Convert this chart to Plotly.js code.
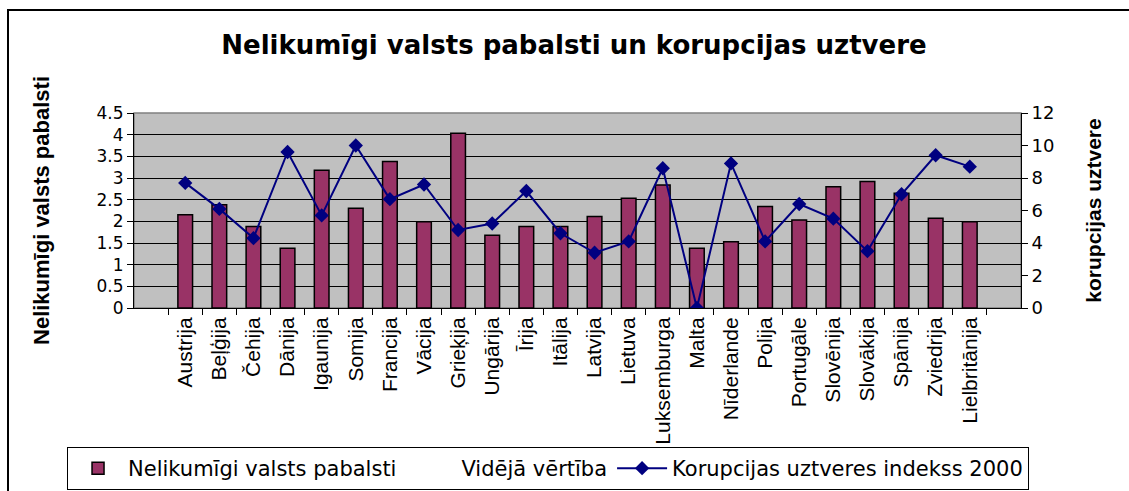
<!DOCTYPE html>
<html>
<head>
<meta charset="utf-8">
<script src="https://cdn.plot.ly/plotly-3.0.1.min.js"></script>
<style>
  html, body { margin: 0; padding: 0; background: #fff; overflow: hidden; }
  #chart { width: 1129px; height: 491px; position: absolute; left: 0; top: 0; }
  #frame { position: absolute; left: 7px; top: 9px; width: 1200px; height: 600px;
           border-left: 2px solid #000; border-top: 2px solid #000; pointer-events: none; }
</style>
</head>
<body>
<div id="chart"></div>
<div id="frame"></div>
<script>
const categories = ["Austrija","Beļģija","Čehija","Dānija","Igaunija","Somija","Francija","Vācija",
  "Grieķija","Ungārija","Īrija","Itālija","Latvija","Lietuva","Luksemburga","Malta","Nīderlande",
  "Polija","Portugāle","Slovēnija","Slovākija","Spānija","Zviedrija","Lielbritānija"];
const pabalsti = [2.15, 2.38, 1.88, 1.38, 3.18, 2.30, 3.38, 1.99, 4.03, 1.68, 1.88, 1.88,
  2.11, 2.53, 2.84, 1.38, 1.53, 2.34, 2.03, 2.80, 2.92, 2.65, 2.07, 1.99];
const korupcija = [7.7, 6.1, 4.3, 9.6, 5.7, 10.0, 6.7, 7.6, 4.8, 5.2, 7.2, 4.6,
  3.4, 4.1, 8.6, 0, 8.9, 4.1, 6.4, 5.5, 3.5, 7.0, 9.4, 8.7];
// "Vidējā vērtība" series is not drawn in the reference (legend entry only)
const videjaVertiba = [null];
const leftTicks = [0, 0.5, 1, 1.5, 2, 2.5, 3, 3.5, 4, 4.5];
const rightTicks = [0, 2, 4, 6, 8, 10, 12];

const traces = [
  {
    type: "bar", x: categories, y: pabalsti, name: "Nelikumīgi valsts pabalsti",
    marker: { color: "#993366", line: { color: "#000", width: 1.5 } },
    yaxis: "y"
  },
  {
    type: "scatter", mode: "lines", x: categories.slice(0, videjaVertiba.length), y: videjaVertiba,
    name: "Vidējā vērtība",
    line: { color: "rgba(0,0,0,0)", width: 0 }, yaxis: "y"
  },
  {
    type: "scatter", mode: "lines+markers", x: categories, y: korupcija,
    name: "Korupcijas uztveres indekss 2000",
    line: { color: "#000080", width: 2 },
    marker: { symbol: "diamond", size: 11, color: "#000080" },
    yaxis: "y2"
  }
];

const layout = {
  width: 1129, height: 491,
  margin: { l: 134, r: 108, t: 113, b: 183, autoexpand: false },
  paper_bgcolor: "#fff",
  plot_bgcolor: "#C0C0C0",
  font: { family: "DejaVu Sans", color: "#000", size: 18 },
  title: {
    text: "<b>Nelikumīgi valsts pabalsti un korupcijas uztvere</b>",
    font: { family: "DejaVu Sans", size: 26, color: "#000" },
    x: 0.496, xref: "paper", xanchor: "center",
    y: 0.908, yref: "container", yanchor: "middle"
  },
  bargap: 0.57,
  showlegend: true,
  legend: {
    orientation: "h", x: -0.0755, xanchor: "left", y: -0.713, yanchor: "top",
    bordercolor: "#000", borderwidth: 1, bgcolor: "#fff",
    font: { family: "DejaVu Sans", size: 21, color: "#000" },
    traceorder: "normal", itemwidth: 50
  },
  xaxis: {
    type: "category", tickangle: -90, showline: true, linecolor: "#000", linewidth: 1,
    ticks: "outside", tickson: "boundaries", ticklen: 6, tickcolor: "#000",
    tickfont: { family: "Liberation Sans", size: 21, color: "#000" },
    showgrid: false, automargin: false, fixedrange: true
  },
  yaxis: {
    range: [0, 4.5], tickvals: leftTicks, ticktext: leftTicks.map(String),
    showgrid: true, gridcolor: "#000", gridwidth: 1,
    showline: true, linecolor: "#000", linewidth: 1,
    ticks: "outside", ticklen: 6, tickcolor: "#000", zeroline: false,
    tickfont: { family: "DejaVu Sans", size: 17, color: "#000" },
    title: { text: "<b>Nelikumīgi valsts pabalsti</b>", standoff: 40,
             font: { family: "Liberation Sans", size: 22, color: "#000" } },
    automargin: false
  },
  yaxis2: {
    range: [0, 12], tickvals: rightTicks, overlaying: "y", side: "right",
    showgrid: false, showline: true, linecolor: "#000", linewidth: 1,
    ticks: "outside", ticklen: 6, tickcolor: "#000", zeroline: false,
    tickfont: { family: "DejaVu Sans", size: 18, color: "#000" },
    title: { text: "<b>korupcijas uztvere</b>", standoff: 32,
             font: { family: "Liberation Sans", size: 21, color: "#000" } },
    automargin: false
  },
  shapes: [
    { type: "rect", xref: "paper", yref: "paper", x0: 0, x1: 1, y0: 0, y1: 1,
      line: { color: "#808080", width: 1.5 }, layer: "below" }
  ]
};

Plotly.newPlot("chart", traces, layout, { staticPlot: true, displayModeBar: false });
</script>
</body>
</html>
